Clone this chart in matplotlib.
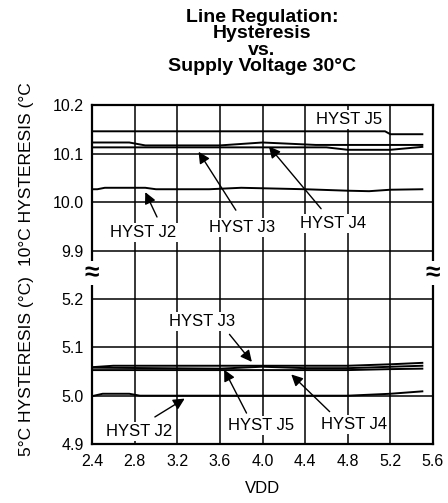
import matplotlib
matplotlib.use("Agg")
import matplotlib.pyplot as plt
from matplotlib.ticker import FormatStrFormatter

plt.rcParams['font.family'] = ['Liberation Sans', 'DejaVu Sans']

# ---- data ----
x_ticks = [2.4, 2.8, 3.2, 3.6, 4.0, 4.4, 4.8, 5.2, 5.6]
y_ticks_10 = [9.9, 10.0, 10.1, 10.2]
y_ticks_5 = [4.9, 5.0, 5.1, 5.2]

# 10 degC hysteresis
j5_10_x = [2.4, 5.15, 5.2, 5.5]
j5_10_y = [10.146, 10.146, 10.140, 10.140]
j4_10_x = [2.4, 2.75, 2.9, 3.6, 4.0, 4.5, 5.5]
j4_10_y = [10.123, 10.123, 10.117, 10.117, 10.123, 10.118, 10.118]
j3_10_x = [2.4, 4.6, 4.8, 5.2, 5.5]
j3_10_y = [10.113, 10.113, 10.108, 10.108, 10.114]
j2_10_x = [2.4, 2.45, 2.52, 2.9, 3.0, 3.5, 3.8, 4.0, 4.4, 4.8, 5.0, 5.2, 5.5]
j2_10_y = [10.027, 10.027, 10.030, 10.030, 10.027, 10.027, 10.030, 10.029,
           10.027, 10.024, 10.023, 10.026, 10.027]

# 5 degC hysteresis
j2_5_x = [2.4, 2.5, 2.75, 2.85, 4.8, 5.2, 5.5]
j2_5_y = [4.999, 5.004, 5.004, 5.000, 5.000, 5.004, 5.009]
j3_5_x = [2.4, 2.6, 4.8, 5.2, 5.5]
j3_5_y = [5.059, 5.062, 5.062, 5.065, 5.068]
j5_5_x = [2.4, 3.0, 3.6, 4.0, 4.4, 4.8, 5.5]
j5_5_y = [5.058, 5.057, 5.056, 5.060, 5.057, 5.057, 5.062]
j4_5_x = [2.4, 4.8, 5.2, 5.5]
j4_5_y = [5.053, 5.053, 5.055, 5.056]

W, H = 448, 503
fig = plt.figure(figsize=(W / 100, H / 100), dpi=100)

L, R = 92 / W, 433 / W
ax_top = fig.add_axes([L, 1 - 273 / H, R - L, (273 - 105) / H])
ax_bot = fig.add_axes([L, 1 - 444 / H, R - L, (444 - 273) / H])

for ax in (ax_top, ax_bot):
    ax.set_xlim(2.4, 5.6)
    ax.set_xticks(x_ticks)
    ax.grid(True, color='black', lw=1.1)
    ax.set_axisbelow(True)
    ax.tick_params(length=0, labelsize=11.5, pad=6)
    ax.yaxis.set_major_formatter(FormatStrFormatter('%.1f'))
    for s in ax.spines.values():
        s.set_linewidth(1.6)

ax_top.set_ylim(9.855, 10.2)
ax_top.set_yticks(y_ticks_10)
ax_top.spines['bottom'].set_visible(False)
ax_top.tick_params(labelbottom=False)

ax_bot.set_ylim(4.9, 5.254)
ax_bot.set_yticks(y_ticks_5)
ax_bot.spines['top'].set_visible(False)
ax_bot.xaxis.set_major_formatter(FormatStrFormatter('%.1f'))
ax_bot.tick_params(axis='x', pad=7)

lw = 1.4
for xs, ys in [(j5_10_x, j5_10_y), (j4_10_x, j4_10_y), (j3_10_x, j3_10_y), (j2_10_x, j2_10_y)]:
    ax_top.plot(xs, ys, color='black', lw=lw, zorder=3)
for xs, ys in [(j2_5_x, j2_5_y), (j3_5_x, j3_5_y), (j5_5_x, j5_5_y), (j4_5_x, j4_5_y)]:
    ax_bot.plot(xs, ys, color='black', lw=lw, zorder=3)

bbox = dict(fc='white', ec='none', pad=1.5)
arrow = dict(arrowstyle='-|>', color='black', lw=1.0, mutation_scale=17,
             shrinkA=0, shrinkB=0)

def label(ax, txt, pos, tail=None, tip=None):
    ax.text(pos[0], pos[1], txt, ha='center', va='center', fontsize=12,
            bbox=bbox, zorder=5)
    if tail is not None:
        ax.annotate('', xy=tip, xytext=tail, arrowprops=arrow, zorder=6)

label(ax_top, 'HYST J5', (4.81, 10.171))
label(ax_top, 'HYST J2', (2.88, 9.939), (3.01, 9.970), (2.90, 10.021))
label(ax_top, 'HYST J3', (3.81, 9.949), (3.75, 9.984), (3.40, 10.104))
label(ax_top, 'HYST J4', (4.66, 9.956), (4.55, 9.987), (4.06, 10.115))

label(ax_bot, 'HYST J3', (3.43, 5.154), (3.69, 5.127), (3.90, 5.070))
label(ax_bot, 'HYST J2', (2.84, 4.926), (2.99, 4.956), (3.27, 4.994))
label(ax_bot, 'HYST J5', (3.99, 4.938), (3.85, 4.964), (3.64, 5.054))
label(ax_bot, 'HYST J4', (4.86, 4.940), (4.63, 4.967), (4.27, 5.044))

# break marks
for xp in (92, 433):
    fig.text(xp / W, 1 - 273 / H, '≈', ha='center', va='center',
             fontsize=19, fontweight='bold',
             bbox=dict(fc='white', ec='none', pad=0), zorder=10)

ax_bot.set_xlabel('VDD', fontsize=12, labelpad=9)

fig.text(27 / W, 1 - 366 / H, '5°C HYSTERESIS (°C)', rotation=90,
         ha='center', va='center', fontsize=12.5)
fig.text(27 / W, 1 - 174 / H, '10°C HYSTERESIS (°C', rotation=90,
         ha='center', va='center', fontsize=12.5)

fig.text(262 / W, 1 - 42 / H,
         'Line Regulation:\nHysteresis\nvs.\nSupply Voltage 30°C',
         ha='center', va='center', fontsize=14, fontweight='bold',
         linespacing=0.95)

fig.savefig('out.png', dpi=100)
